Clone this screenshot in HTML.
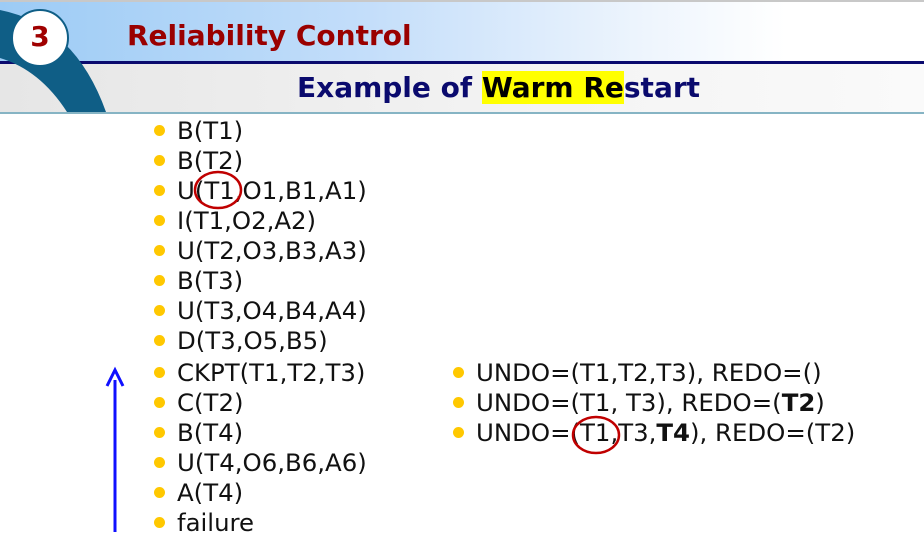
<!DOCTYPE html>
<html><head><meta charset="utf-8"><style>
body{margin:0;width:924px;height:558px;overflow:hidden;background:#fff;position:relative;font-family:"DejaVu Sans","Liberation Sans",sans-serif}
.abs{position:absolute}
.item{position:absolute;font-size:24.4px;color:#111;line-height:30px;white-space:nowrap}
.item:before{content:"";position:absolute;left:-23px;top:9px;width:11px;height:11px;border-radius:50%;background:#ffc800}
</style></head><body>
<div class="abs" style="left:0;top:0;width:924px;height:2px;background:#c8c8c8"></div>
<div class="abs" style="left:0;top:2px;width:924px;height:59px;background:linear-gradient(90deg,#9ccbf5 0%,#c4defa 40%,#eef5fd 70%,#fff 85%)"></div>
<div class="abs" style="left:0;top:61px;width:924px;height:3px;background:#0a0a6e"></div>
<div class="abs" style="left:0;top:64px;width:924px;height:48px;background:linear-gradient(90deg,#e6e6e6,#f4f4f4 60%,#fafafa)"></div>
<div class="abs" style="left:0;top:112px;width:924px;height:2px;background:#86b4c4"></div>
<svg class="abs" style="left:0;top:0" width="120" height="114">
<path d="M0 10 Q75 25 106 112 L67 112 Q40 70 0 58 Z" fill="#0f5e86"/>
<circle cx="40" cy="38" r="28" fill="#fff" stroke="#0f5e86" stroke-width="2"/>
</svg>
<div class="abs" style="left:11px;top:20px;width:58px;text-align:center;font-weight:bold;font-size:28px;color:#a00000">3</div>
<div class="abs" style="left:127px;top:19px;font-weight:bold;font-size:28px;color:#9a0000">Reliability Control</div>
<div class="abs" style="left:297px;top:71px;font-weight:bold;font-size:28px;color:#0a0a6e;white-space:nowrap">Example of <span style="background:#ffff00;color:#000">Warm Re</span>start</div>
<div>
<div class="item" style="left:177px;top:116px">B(T1)</div>
<div class="item" style="left:177px;top:146px">B(T2)</div>
<div class="item" style="left:177px;top:176px">U(T1,O1,B1,A1)</div>
<div class="item" style="left:177px;top:206px">I(T1,O2,A2)</div>
<div class="item" style="left:177px;top:236px">U(T2,O3,B3,A3)</div>
<div class="item" style="left:177px;top:266px">B(T3)</div>
<div class="item" style="left:177px;top:296px">U(T3,O4,B4,A4)</div>
<div class="item" style="left:177px;top:326px">D(T3,O5,B5)</div>
<div class="item" style="left:177px;top:358px">CKPT(T1,T2,T3)</div>
<div class="item" style="left:177px;top:388px">C(T2)</div>
<div class="item" style="left:177px;top:418px">B(T4)</div>
<div class="item" style="left:177px;top:448px">U(T4,O6,B6,A6)</div>
<div class="item" style="left:177px;top:478px">A(T4)</div>
<div class="item" style="left:177px;top:508px">failure</div>
</div>
<div>
<div class="item" style="left:476px;top:358px">UNDO=(T1,T2,T3), REDO=()</div>
<div class="item" style="left:476px;top:388px">UNDO=(T1, T3), REDO=(<b>T2</b>)</div>
<div class="item" style="left:476px;top:418px">UNDO=(T1,T3,<b>T4</b>), REDO=(T2)</div>
</div>
<svg class="abs" style="left:0;top:0" width="924" height="558">
<ellipse cx="218" cy="190" rx="23" ry="18" fill="none" stroke="#c00000" stroke-width="2.5"/>
<ellipse cx="596" cy="435" rx="23" ry="18" fill="none" stroke="#c00000" stroke-width="2.5"/>
<line x1="115" y1="532" x2="115" y2="380" stroke="#1010ff" stroke-width="3"/>
<path d="M107 386 L115 370 L123 386" fill="none" stroke="#1010ff" stroke-width="3"/>
</svg>
</body></html>
